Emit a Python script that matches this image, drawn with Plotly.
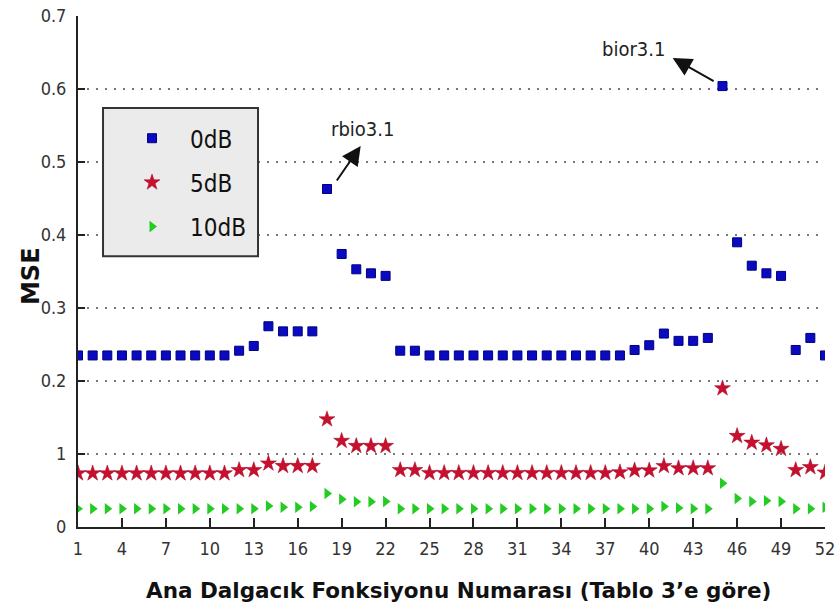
import plotly.graph_objects as go

# Wavelet index (Tablo 3) and MSE values for each noise level
idx = list(range(1, 53))

mse_0db = [
    0.235, 0.235, 0.235, 0.235, 0.235, 0.235, 0.235, 0.235, 0.235, 0.235,
    0.235, 0.2415, 0.248, 0.275, 0.268, 0.268, 0.268, 0.463, 0.374, 0.353,
    0.3475, 0.344, 0.2415, 0.2415, 0.235, 0.235, 0.235, 0.235, 0.235, 0.235,
    0.235, 0.235, 0.235, 0.235, 0.235, 0.235, 0.235, 0.235, 0.2425, 0.249,
    0.265, 0.255, 0.255, 0.259, 0.604, 0.39, 0.358, 0.3475, 0.344, 0.2425,
    0.259, 0.235,
]

mse_5db = [
    0.0735, 0.0735, 0.0735, 0.0735, 0.0735, 0.0735, 0.0735, 0.0735, 0.0735, 0.0735,
    0.0735, 0.078, 0.078, 0.087, 0.0836, 0.0836, 0.0836, 0.1475, 0.118, 0.111,
    0.111, 0.111, 0.078, 0.078, 0.074, 0.074, 0.074, 0.074, 0.074, 0.074,
    0.074, 0.074, 0.074, 0.074, 0.074, 0.074, 0.074, 0.075, 0.0775, 0.0775,
    0.0835, 0.0805, 0.0805, 0.0805, 0.19, 0.1247, 0.1155, 0.112, 0.107, 0.078,
    0.082, 0.0745,
]

mse_10db = [
    0.025, 0.025, 0.025, 0.025, 0.025, 0.025, 0.025, 0.025, 0.025, 0.025,
    0.025, 0.025, 0.025, 0.0288, 0.027, 0.027, 0.028, 0.046, 0.038, 0.0347,
    0.0347, 0.035, 0.025, 0.025, 0.025, 0.025, 0.025, 0.025, 0.025, 0.025,
    0.025, 0.025, 0.025, 0.025, 0.025, 0.025, 0.025, 0.025, 0.025, 0.025,
    0.028, 0.026, 0.025, 0.025, 0.06, 0.039, 0.035, 0.036, 0.035, 0.025,
    0.025, 0.027,
]

series_names = ["0dB", "5dB", "10dB"]

x_tickvals = [1, 4, 7, 10, 13, 16, 19, 22, 25, 28, 31, 34, 37, 40, 43, 46, 49, 52]
y_tickvals = [0, 0.1, 0.2, 0.3, 0.4, 0.5, 0.6, 0.7]
y_ticktext = ["0", "1", "0.2", "0.3", "0.4", "0.5", "0.6", "0.7"]

x_title = "Ana Dalgacık Fonksiyonu Numarası (Tablo 3’e göre)"
y_title = "MSE"

NARROW = "DejaVu Sans Condensed, Liberation Sans Narrow, sans-serif"
BOLD = "DejaVu Sans, Liberation Sans, Arial, sans-serif"

fig = go.Figure()

fig.add_trace(go.Scatter(
    x=idx, y=mse_0db, mode="markers", name=series_names[0], legendgroup="a",
    marker=dict(symbol="square", size=9, color="#0a0ac0",
                line=dict(color="#000080", width=1)),
))
fig.add_trace(go.Scatter(
    x=idx, y=mse_5db, mode="markers", name=series_names[1], legendgroup="b",
    marker=dict(symbol="star", size=12, color="#c8102e",
                line=dict(color="#a00020", width=0.5)),
))
fig.add_trace(go.Scatter(
    x=idx, y=mse_10db, mode="markers", name=series_names[2], legendgroup="c",
    marker=dict(symbol="triangle-right", size=10, color="#22cc22",
                line=dict(width=0)),
))

# Callout arrows (head near the label, tail near the highlighted point)
arrow_common = dict(showarrow=True, arrowhead=2, arrowsize=1.9, arrowwidth=2,
                    arrowcolor="#111", axref="x", ayref="y", text="")
fig.add_annotation(x=20.3, y=0.522, ax=18.6, ay=0.4726, **arrow_common)
fig.add_annotation(x=41.6, y=0.6425, ax=44.5, ay=0.6096, **arrow_common)

label_font = dict(family=NARROW, size=20, color="#222")
fig.add_annotation(x=20.45, y=0.545, text="rbio3.1", showarrow=False, font=label_font)
fig.add_annotation(x=38.9, y=0.655, text="bior3.1", showarrow=False, font=label_font)

# Axis titles placed as paper-anchored annotations
fig.add_annotation(xref="paper", yref="paper", x=0.51, y=-0.124, yanchor="middle",
                   text="<b>" + x_title + "</b>", showarrow=False,
                   font=dict(family=BOLD, size=21.5, color="#111"))
fig.add_annotation(xref="paper", yref="paper", x=-0.063, y=0.491, xanchor="center",
                   text="<b>" + y_title + "</b>", showarrow=False, textangle=-90,
                   font=dict(family=BOLD, size=24, color="#111"))

# Legend frame (drawn over the gridlines, under the legend entries)
fig.add_shape(type="rect", xref="paper", yref="paper",
              x0=0.0335, x1=0.241, y0=0.530, y1=0.820, layer="above",
              fillcolor="#ebebeb", line=dict(color="#333", width=2))

fig.update_layout(
    width=835, height=612,
    margin=dict(l=78, r=10, t=16, b=85, autoexpand=False),
    paper_bgcolor="white", plot_bgcolor="white",
    showlegend=True,
    legend=dict(
        x=0.0335, y=0.808, xanchor="left", yanchor="top",
        bgcolor="rgba(0,0,0,0)", bordercolor="rgba(0,0,0,0)", borderwidth=2,
        font=dict(family=NARROW, size=24, color="#111"),
        tracegroupgap=10, itemsizing="trace", indentation=9,
        itemwidth=66, traceorder="grouped",
    ),
    xaxis=dict(
        range=[1, 52], tickmode="array", tickvals=x_tickvals,
        ticks="inside", ticklen=9, tickwidth=2, tickcolor="#222",
        showline=True, linecolor="#222", linewidth=2, automargin=False,
        showgrid=False, zeroline=False, ticklabeloverflow="allow",
        ticklabelstandoff=4,
        tickfont=dict(family=NARROW, size=18, color="#333"),
    ),
    yaxis=dict(
        range=[0, 0.7], tickmode="array", tickvals=y_tickvals, ticktext=y_ticktext,
        ticks="inside", ticklen=7, tickwidth=2, tickcolor="#222",
        showline=True, linecolor="#222", linewidth=2, automargin=False,
        showgrid=True, gridcolor="#777", gridwidth=1.5, griddash="2px,7px",
        zeroline=False, ticklabelstandoff=6, ticklabeloverflow="allow",
        tickfont=dict(family=NARROW, size=18, color="#333"),
    ),
)

fig.write_html("out.html")
